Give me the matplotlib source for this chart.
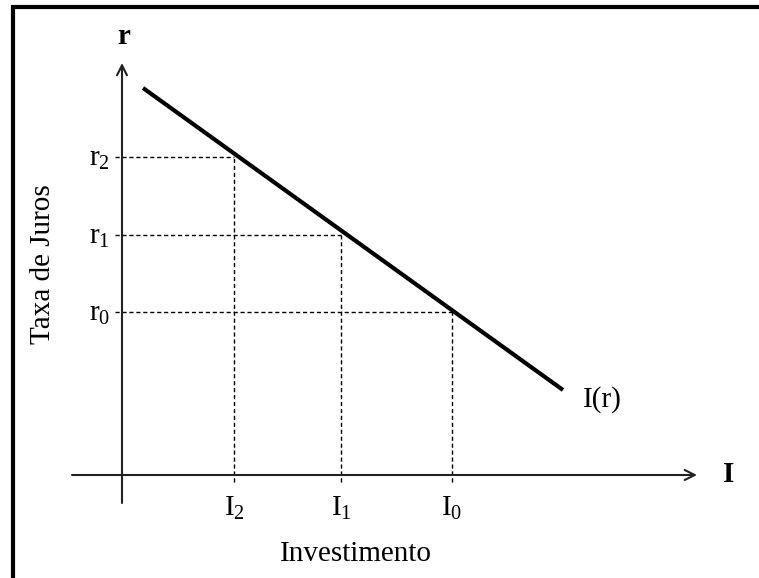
import matplotlib
matplotlib.use("Agg")
import matplotlib.pyplot as plt
from matplotlib.patches import Rectangle

# investment curve I(r): two end points (I, r)
curve_I = [21, 441]
curve_r = [387, 85]

# marked points on the curve
I_vals = [112, 219, 330]
r_vals = [318, 240, 163]
I_labels = [r"$\mathrm{I}_2$", r"$\mathrm{I}_1$", r"$\mathrm{I}_0$"]
r_labels = [r"$\mathrm{r}_2$", r"$\mathrm{r}_1$", r"$\mathrm{r}_0$"]

plt.rcParams["font.family"] = "Liberation Serif"
plt.rcParams["mathtext.fontset"] = "custom"
plt.rcParams["mathtext.rm"] = "Liberation Serif"
plt.rcParams["mathtext.it"] = "Liberation Serif:italic"
plt.rcParams["mathtext.bf"] = "Liberation Serif:bold"

fig = plt.figure(figsize=(7.59, 5.78), dpi=100)
ax = fig.add_axes([0, 0, 1, 1])
ax.set_xlim(-122, 637)
ax.set_ylim(-103, 475)
ax.axis("off")

# frame (only top and left show in the picture)
fig.patches.append(Rectangle((13 / 759, -0.1), 1.2, 1 - 7 / 578 + 0.1,
                             transform=fig.transFigure, fill=False,
                             lw=3, ec="black"))

# axes with arrows
ax.annotate("", xy=(0, 412), xytext=(0, -28),
            arrowprops=dict(arrowstyle="->", lw=1.5, color="#222222",
                            shrinkA=0, shrinkB=0, mutation_scale=18))
ax.annotate("", xy=(575, 0), xytext=(-50, 0),
            arrowprops=dict(arrowstyle="->", lw=1.5, color="#222222",
                            shrinkA=0, shrinkB=0, mutation_scale=18))

# curve
ax.plot(curve_I, curve_r, color="black", lw=3, solid_capstyle="butt")

# dashed guides
for i, r in zip(I_vals, r_vals):
    ax.plot([-7, i], [r, r], color="black", lw=1, ls=(0, (3, 2)))
    ax.plot([i, i], [-7, r], color="black", lw=1, ls=(0, (3, 2)))

fs = 21
for r, lab in zip(r_vals, r_labels):
    ax.text(-12, r - 2, lab, ha="right", va="center", fontsize=fs)
for i, lab in zip(I_vals, I_labels):
    ax.text(i, -33, lab, ha="center", va="center", fontsize=fs)

ax.text(461, 75, "I(r)", ha="left", va="center", fontsize=fs)
ax.text(2, 438, "r", ha="center", va="center", fontsize=fs, fontweight="bold")
ax.text(607, 0, "I", ha="center", va="center", fontsize=fs, fontweight="bold")
ax.text(234, -79, "Investimento", ha="center", va="center", fontsize=fs)
ax.text(-79, 211, "Taxa de Juros", ha="center", va="center", fontsize=fs,
        rotation=90)

fig.savefig("out.png", dpi=100)
